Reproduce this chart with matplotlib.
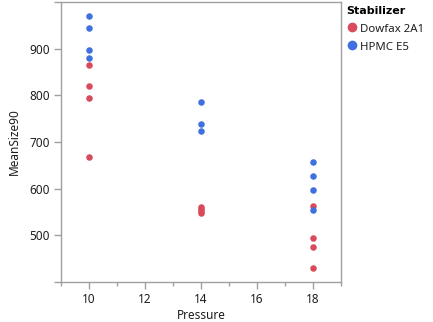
import matplotlib
matplotlib.use("Agg")
import matplotlib.pyplot as plt
from matplotlib.lines import Line2D
from matplotlib.ticker import FixedLocator
from matplotlib.font_manager import FontProperties

plt.rcParams['font.family'] = ['Noto Sans', 'DejaVu Sans']

series_names = ["Dowfax 2A1", "HPMC E5"]
dowfax_pressure = [10, 10, 10, 10, 14, 14, 14, 14, 18, 18, 18, 18]
dowfax_size = [865, 821, 794, 667, 560, 556, 552, 548, 563, 495, 474, 431]
hpmc_pressure = [10, 10, 10, 10, 14, 14, 14, 18, 18, 18, 18]
hpmc_size = [971, 945, 898, 879, 786, 738, 724, 657, 628, 598, 555]
y_tick_labels = [500, 600, 700, 800, 900]
x_tick_labels = [10, 12, 14, 16, 18]

colors = ["#D94A5B", "#3F6FE0"]
frame_col = "#A0A0A0"
text_col = "#1E1E1E"

fig = plt.figure(figsize=(4.33, 3.22), dpi=100)
ax = fig.add_axes([61/433, 1-282/322, 280/433, 280/322])

ax.scatter(dowfax_pressure, dowfax_size, s=22, color=colors[0], linewidths=0, zorder=3)
ax.scatter(hpmc_pressure, hpmc_size, s=22, color=colors[1], linewidths=0, zorder=3)

ax.set_xlim(9, 19)
ax.set_ylim(400, 1000)
ax.xaxis.set_major_locator(FixedLocator(x_tick_labels))
ax.xaxis.set_minor_locator(FixedLocator([9, 11, 13, 15, 17, 19]))
ax.yaxis.set_major_locator(FixedLocator([400] + y_tick_labels + [1000]))
ax.set_yticklabels([""] + [str(v) for v in y_tick_labels] + [""])
ax.set_xticklabels([str(v) for v in x_tick_labels])

for s in ax.spines.values():
    s.set_color(frame_col)
    s.set_linewidth(1.0)
ax.tick_params(axis='both', which='major', length=5, width=1, color=frame_col,
               labelsize=8.5, labelcolor=text_col, pad=3)
ax.tick_params(axis='x', which='minor', length=3, width=1, color=frame_col)

ax.set_xlabel("Pressure", fontsize=8.5, color=text_col, labelpad=2)
ax.set_ylabel("MeanSize90", fontsize=8.5, color=text_col, labelpad=6)

handles = [Line2D([], [], marker='o', linestyle='', markersize=7, color=c, markeredgewidth=0)
           for c in colors]
title_fp = FontProperties(family=['DejaVu Sans'], weight='bold', size=8)
leg = fig.legend(handles, series_names, loc='upper left', bbox_to_anchor=(342/433, 0.995),
                 frameon=False, title="Stabilizer", fontsize=8.2, title_fontproperties=title_fp,
                 handletextpad=0.25, handlelength=0.9, labelspacing=0.55, borderaxespad=0,
                 handleheight=0.9)
leg._legend_box.align = "left"
leg._legend_box.sep = 5
for t in leg.get_texts():
    t.set_color(text_col)

fig.savefig("out.png", dpi=100)
